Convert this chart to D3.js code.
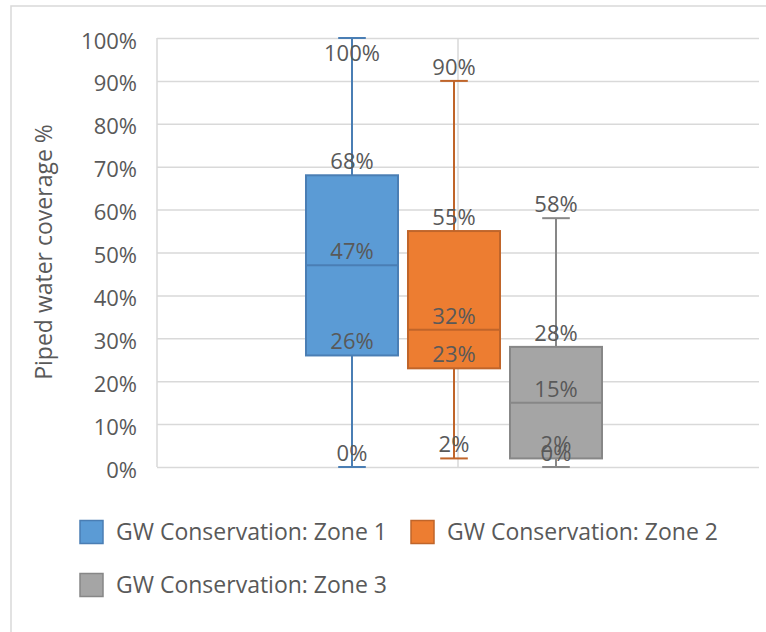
<!DOCTYPE html>
<html>
<head>
<meta charset="utf-8">
<script src="https://cdn.jsdelivr.net/npm/d3@7"></script>
<style>
  html, body { margin: 0; padding: 0; background: #ffffff; }
  svg { display: block; }
  text { font-family: "Open Sans", "Noto Sans", sans-serif; fill: #595959; }
</style>
</head>
<body>
<svg id="chart" width="766" height="632"></svg>
<script>
// Box-plot statistics per groundwater conservation zone (fractions of 1)
const zones   = ["GW Conservation: Zone 1", "GW Conservation: Zone 2", "GW Conservation: Zone 3"];
const mins    = [0.00, 0.02, 0.00];
const q1s     = [0.26, 0.23, 0.02];
const medians = [0.47, 0.32, 0.15];
const q3s     = [0.68, 0.55, 0.28];
const maxs    = [1.00, 0.90, 0.58];
const yTicks  = [0, 0.1, 0.2, 0.3, 0.4, 0.5, 0.6, 0.7, 0.8, 0.9, 1.0];

const fills   = ["#5B9BD5", "#ED7D31", "#A5A5A5"];
const strokes = ["#4A7EB4", "#C0652A", "#878787"];

const svg = d3.select("#chart");
const W = 766, H = 632;
const plot = { left: 157, right: 759, top: 38, bottom: 467 };

// outer chart-area frame
svg.append("rect")
  .attr("x", 11).attr("y", 6).attr("width", W).attr("height", H)
  .attr("fill", "#ffffff").attr("stroke", "#D9D9D9").attr("stroke-width", 1.5);

const y = d3.scaleLinear().domain([0, 1]).range([plot.bottom, plot.top]);
const x = d3.scaleBand().domain(zones).range([301, 607])
  .paddingInner(0.098).paddingOuter(0.049);
const fmt = d3.format(".0%");

// horizontal gridlines + y tick labels via axis
const yAxis = d3.axisLeft(y).tickValues(yTicks).tickFormat(fmt)
  .tickSize(-(plot.right - plot.left)).tickPadding(20);
const gy = svg.append("g").attr("transform", `translate(${plot.left},0)`).call(yAxis);
gy.select(".domain").remove();
gy.selectAll(".tick line").attr("stroke", "#D9D9D9").attr("stroke-width", 1.5);
gy.selectAll(".tick text")
  .attr("font-size", 22).attr("fill", "#595959")
  .attr("x", 137 - plot.left).attr("dy", null).attr("y", 10)
  .attr("text-anchor", "end");

// vertical category gridlines
const vLines = [plot.left, (plot.left + plot.right) / 2];
svg.append("g").selectAll("line").data(vLines).join("line")
  .attr("x1", d => d).attr("x2", d => d)
  .attr("y1", plot.top).attr("y2", plot.bottom)
  .attr("stroke", "#D9D9D9").attr("stroke-width", 1.5);

// y axis title
svg.append("text")
  .attr("transform", `translate(52,252) rotate(-90)`)
  .attr("text-anchor", "middle")
  .attr("font-size", 23)
  .text("Piped water coverage %");

// boxes
const data = zones.map((z, i) => ({
  zone: z, min: mins[i], q1: q1s[i], med: medians[i], q3: q3s[i], max: maxs[i],
  fill: fills[i], stroke: strokes[i]
}));

const bw = x.bandwidth();
const capW = bw * 0.3;

const g = svg.append("g").selectAll("g").data(data).join("g")
  .attr("transform", d => `translate(${x(d.zone)},0)`);

// whiskers
g.append("line")
  .attr("x1", bw / 2).attr("x2", bw / 2)
  .attr("y1", d => y(d.max)).attr("y2", d => y(d.q3))
  .attr("stroke", d => d.stroke).attr("stroke-width", 2);
g.append("line")
  .attr("x1", bw / 2).attr("x2", bw / 2)
  .attr("y1", d => y(d.q1)).attr("y2", d => y(d.min))
  .attr("stroke", d => d.stroke).attr("stroke-width", 2);
// whisker caps
["max", "min"].forEach(k => {
  g.append("line")
    .attr("x1", bw / 2 - capW / 2).attr("x2", bw / 2 + capW / 2)
    .attr("y1", d => y(d[k])).attr("y2", d => y(d[k]))
    .attr("stroke", d => d.stroke).attr("stroke-width", 2);
});
// box
g.append("rect")
  .attr("x", 0).attr("width", bw)
  .attr("y", d => y(d.q3)).attr("height", d => y(d.q1) - y(d.q3))
  .attr("fill", d => d.fill).attr("stroke", d => d.stroke).attr("stroke-width", 2);
// median
g.append("line")
  .attr("x1", 0).attr("x2", bw)
  .attr("y1", d => y(d.med)).attr("y2", d => y(d.med))
  .attr("stroke", d => d.stroke).attr("stroke-width", 2);

// value labels just above each statistic, kept inside the plot
["max", "q3", "med", "q1", "min"].forEach(k => {
  g.append("text")
    .attr("x", bw / 2)
    .attr("y", d => Math.max(y(d[k]) - 6, plot.top + 23))
    .attr("text-anchor", "middle")
    .attr("font-size", 22)
    .text(d => fmt(d[k]));
});

// legend
const legendPos = [
  { x: 80, y: 532 },
  { x: 411, y: 532 },
  { x: 80, y: 585 }
];
const lg = svg.append("g").selectAll("g").data(data).join("g")
  .attr("transform", (d, i) => `translate(${legendPos[i].x},${legendPos[i].y})`);
lg.append("rect")
  .attr("x", 0).attr("y", -11.5).attr("width", 23).attr("height", 23)
  .attr("fill", d => d.fill).attr("stroke", d => d.stroke).attr("stroke-width", 1.5);
lg.append("text")
  .attr("x", 36).attr("y", 8)
  .attr("font-size", 23)
  .text(d => d.zone);
</script>
</body>
</html>
